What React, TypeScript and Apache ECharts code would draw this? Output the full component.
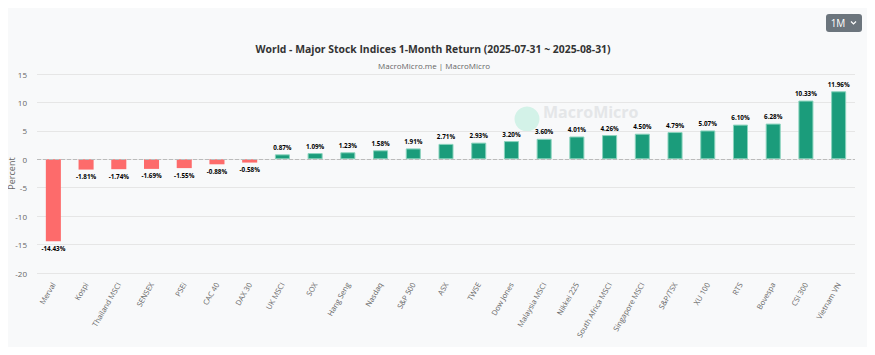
import React, { useEffect, useRef } from "react";
import * as echarts from "echarts";

const categories = [
  "Merval", "Kospi", "Thailand MSCI", "SENSEX", "PSEi", "CAC 40", "DAX 30", "UK MSCI",
  "SOX", "Hang Seng", "Nasdaq", "S&P 500", "ASX", "TWSE", "Dow Jones", "Malaysia MSCI",
  "Nikkei 225", "South Africa MSCI", "Singapore MSCI", "S&P/TSX", "XU 100", "RTS",
  "Bovespa", "CSI 300", "Vietnam VN",
];
const returns = [
  -14.43, -1.81, -1.74, -1.69, -1.55, -0.88, -0.58, 0.87, 1.09, 1.23, 1.58, 1.91, 2.71,
  2.93, 3.2, 3.6, 4.01, 4.26, 4.5, 4.79, 5.07, 6.1, 6.28, 10.33, 11.96,
];
const yTicks = [-20, -15, -10, -5, 0, 5, 10, 15];

const TITLE = "World - Major Stock Indices 1-Month Return (2025-07-31 ~ 2025-08-31)";
const SUBTITLE = "MacroMicro.me | MacroMicro";

export default function App() {
  const ref = useRef<HTMLDivElement>(null);
  useEffect(() => {
    if (!ref.current) return;
    const chart = echarts.init(ref.current, null, { renderer: "svg" });
    const font = "'Open Sans', 'Noto Sans', sans-serif";
    const data = returns.map((v) => ({
      value: v,
      itemStyle: v < 0
        ? { color: "#fd6b6b", borderWidth: 0 }
        : { color: "#1b9c7b", borderColor: "#8ad3bd", borderWidth: 1 },
      label: { position: v < 0 ? "bottom" : "top" },
    }));
    chart.setOption({
      animation: false,
      backgroundColor: "#f8f9fa",
      textStyle: { fontFamily: font },
      title: [
        {
          text: TITLE,
          left: 428,
          textAlign: "center",
          top: 39,
          textStyle: { fontSize: 10.4, fontWeight: "bold", color: "#333", fontFamily: font },
        },
        {
          text: SUBTITLE,
          left: 429,
          textAlign: "center",
          top: 56,
          textStyle: { fontSize: 8, fontWeight: "normal", color: "#666", fontFamily: font },
        },
      ],
      graphic: [
        { type: "circle", shape: { cx: 527, cy: 119, r: 12.5 }, style: { fill: "#d3f2e8" }, z: 0, silent: true },
        {
          type: "text", x: 543, y: 112,
          style: { text: "MacroMicro", fill: "#e4e6e8", fontSize: 16, fontWeight: "bold", fontFamily: font, textVerticalAlign: "middle" },
          z: 0, silent: true,
        },
        { type: "rect", shape: { x: 826, y: 14, width: 36, height: 18, r: 3 }, style: { fill: "#6c757d" }, z: 10 },
        {
          type: "text", x: 838, y: 23,
          style: { text: "1M", fill: "#fff", fontSize: 10, fontFamily: font, textAlign: "center", textVerticalAlign: "middle" },
          z: 11,
        },
        {
          type: "polyline", shape: { points: [[851, 21.5], [853.5, 24], [856, 21.5]] },
          style: { stroke: "#fff", lineWidth: 1.2, fill: "none" }, z: 11,
        },
      ],
      grid: { left: 37, right: 20, top: 74, bottom: 82, containLabel: false, outerBoundsMode: "none" },
      xAxis: {
        type: "category",
        data: categories,
        axisLine: { show: false },
        axisTick: { show: false },
        axisLabel: { rotate: 60, color: "#666", fontSize: 7.5, interval: 0, margin: 10 },
      },
      yAxis: {
        type: "value",
        min: yTicks[0],
        max: yTicks[yTicks.length - 1],
        interval: 5,
        name: "Percent",
        nameLocation: "middle",
        nameGap: 21,
        nameMoveOverlap: false,
        nameTextStyle: { color: "#666", fontSize: 9 },
        axisLabel: { color: "#666", fontSize: 8, margin: 10 },
        splitLine: { lineStyle: { color: "#e6e6e6", width: 1 } },
        axisLine: { show: false },
        axisTick: { show: false },
      },
      series: [
        {
          type: "bar",
          data,
          barWidth: "46%",
          label: {
            show: true,
            formatter: (p: any) => p.value.toFixed(2) + "%",
            fontSize: 6.3,
            fontWeight: "bold",
            color: "#000",
            distance: 4,
          },
          markLine: {
            silent: true,
            symbol: "none",
            label: { show: false },
            lineStyle: { type: "dashed", color: "#bbb", width: 1 },
            data: [{ yAxis: 0 }],
          },
        },
      ],
    });
    return () => chart.dispose();
  }, []);
  return <div ref={ref} style={{ width: 875, height: 355, margin: -8 }} />;
}
